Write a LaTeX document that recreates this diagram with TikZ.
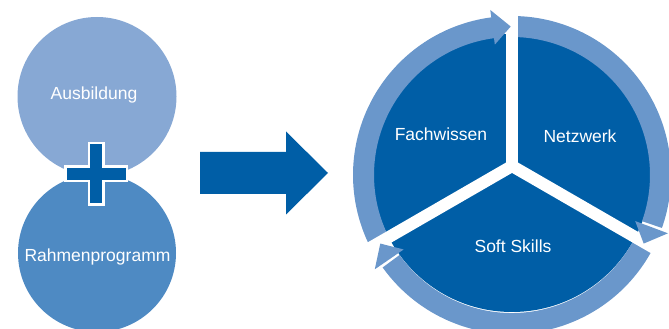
\documentclass[tikz,border=0pt]{standalone}
\usepackage{fontspec}
\setmainfont{Liberation Sans}
\usepackage{xcolor}
\usetikzlibrary{positioning}

\definecolor{darkblue}{RGB}{0,94,166}
\definecolor{ringblue}{RGB}{106,151,203}
\definecolor{paleblue}{RGB}{135,168,212}
\definecolor{midblue}{RGB}{78,138,195}

\begin{document}
\begin{tikzpicture}[x=1pt, y=1pt,
				lbl/.style={text=white, anchor=base, inner sep=0pt, font=\fontsize{17.5}{21}\selectfont},
				ringarc/.style={draw=ringblue, line width=21pt},
				gap/.style={draw=white, line width=12pt, line cap=round},
				tip/.style={fill=ringblue}
				]
				\clip (0,0) rectangle (669,329);
				\fill[midblue] (97,76) circle[radius=79];
				\fill[paleblue] (97,232.5) circle[radius=79.5];
				\foreach \hw/\hl/\col in {8.5/32/white, 6/29.5/darkblue} {
					\fill[\col] (96-\hw,155-\hl) rectangle (96+\hw,155+\hl);
					\fill[\col] (96-\hl,155-\hw) rectangle (96+\hl,155+\hw);
				}
				\node[lbl] (ausb) at (94,229) {Ausbildung};
				\node[lbl] (rahmen) at (97.5,67) {Rahmenprogramm};
				
				\fill[darkblue] (200,135) -- (286,135) -- (286,114.5) -- (328,156) -- (286,197.5) -- (286,177) -- (200,177) -- cycle;
				
				\begin{scope}[shift={(512,154)}]
					\fill[darkblue] (0,2) circle[radius=139];
					\draw[ringarc] (207:148.5) arc[start angle=207, end angle=96.5, radius=148.5];
					\draw[ringarc] (90:148.5) arc[start angle=90, end angle=-19.5, radius=148.5];
					\draw[ringarc] (-27:148.5) arc[start angle=-27, end angle=-144.5, radius=148.5];
					\draw[gap] (0,9) -- ++(90:190);
					\draw[gap] (0,9) -- ++(210:190);
					\draw[gap] (0,9) -- ++(330:190);
					\fill[tip] (97.5:131.5) -- (97.5:166.5) -- (90.5:148.5) -- cycle;
					\fill[tip] (-20.5:131.5) -- (-20.5:166.5) -- (-27.5:148.5) -- cycle;
					\fill[tip] (-145.5:131.5) -- (-145.5:166.5) -- (-152.5:148.5) -- cycle;
				\end{scope}
				
				\node[lbl] (fach) at (441,188) {Fachwissen};
				\node[lbl] (netz) at (580,186.3) {Netzwerk};
				\node[lbl] (soft) at (513,76.3) {Soft Skills};
			\end{tikzpicture}
\end{document}
